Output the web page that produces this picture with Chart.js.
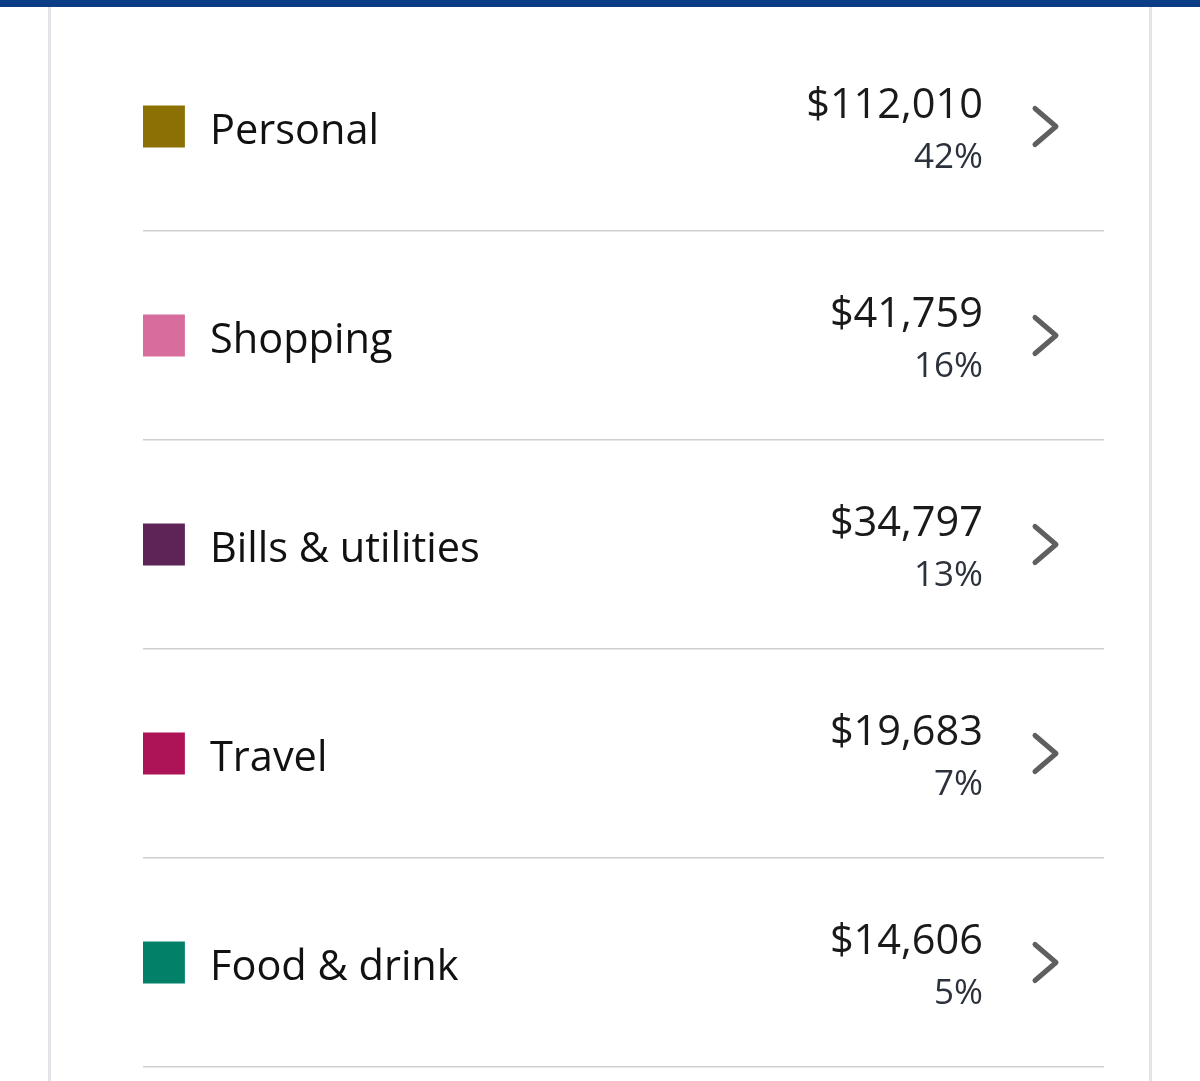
<!DOCTYPE html>
<html>
<head>
<meta charset="utf-8">
<script src="https://cdn.jsdelivr.net/npm/chart.js@4"></script>
<style>
  html, body { margin:0; padding:0; background:#fff; }
  body { width:1200px; height:1081px; position:relative; overflow:hidden; font-family:"Open Sans", sans-serif; }
  .topbar { position:absolute; left:0; top:0; width:1200px; height:7px; background:#0a3d86; }
  .card { position:absolute; left:48px; top:7px; width:1104px; height:1074px; border-left:3px solid #e3e3e8; border-right:3px solid #e3e3e8; box-sizing:border-box; }
  #wrap { position:absolute; left:0; top:0; width:1200px; height:1081px; }
</style>
</head>
<body>
<div class="topbar"></div>
<div class="card"></div>
<div id="wrap"><canvas id="spend"></canvas></div>
<script>
// categorieen + bedragen
const categories = ["Personal", "Shopping", "Bills & utilities", "Travel", "Food & drink"];
const amounts = [112010, 41759, 34797, 19683, 14606];
const percents = [42, 16, 13, 7, 5];
const colors = ["#8b7103", "#d76d9c", "#5e2357", "#ac1457", "#038068"];

const money = v => "$" + v.toLocaleString("en-US");

// tekst + pijltjes naast de blokjes
const rowText = {
  id: "rowText",
  afterDatasetsDraw(chart){
    const ctx = chart.ctx;
    const area = chart.chartArea;
    const meta = chart.getDatasetMeta(0);
    ctx.save();
    meta.data.forEach((pt, i)=>{
      const y = pt.y;
      ctx.textBaseline = "alphabetic";
      ctx.textAlign = "left";
      ctx.fillStyle = "#111111";
      ctx.font = "41.5px 'Open Sans'";
      ctx.fillText(categories[i], area.left + 67, y + 17);

      ctx.textAlign = "right";
      ctx.fillStyle = "#1a1a1a";
      ctx.font = "41.5px 'Open Sans'";
      ctx.fillText(money(amounts[i]), area.left + 840, y - 9);
      ctx.fillStyle = "#2c323c";
      ctx.font = "35px 'Open Sans'";
      ctx.fillText(percents[i] + "%", area.left + 840, y + 41);

      // chevron
      ctx.strokeStyle = "#5f5f5f";
      ctx.lineWidth = 5;
      ctx.lineCap = "round";
      ctx.lineJoin = "round";
      ctx.beginPath();
      ctx.moveTo(area.left + 892, y - 18);
      ctx.lineTo(area.left + 913, y);
      ctx.lineTo(area.left + 892, y + 18);
      ctx.stroke();
    });
    ctx.restore();
  }
};

new Chart(document.getElementById("spend"), {
  type: "scatter",
  data: {
    datasets: [{
      data: categories.map(c => ({ x: 0, y: c })),
      pointStyle: "rect",
      pointRadius: 29.7,
      pointHoverRadius: 29.7,
      backgroundColor: colors,
      borderWidth: 0
    }]
  },
  options: {
    responsive: true,
    maintainAspectRatio: false,
    animation: false,
    events: [],
    layout: { autoPadding: false, padding: { left: 143, right: 96, top: 22, bottom: 14 } },
    plugins: { legend: { display: false }, tooltip: { enabled: false } },
    scales: {
      x: { type: "linear", min: -1, max: 45, display: false },
      y: {
        type: "category",
        labels: categories,
        offset: true,
        border: { display: false },
        ticks: { display: false },
        grid: {
          offset: true,
          drawTicks: false,
          lineWidth: 1.5,
          color: c => c.index === 0 ? "rgba(0,0,0,0)" : "#cfcfcf"
        }
      }
    }
  },
  plugins: [rowText]
});
</script>
</body>
</html>
